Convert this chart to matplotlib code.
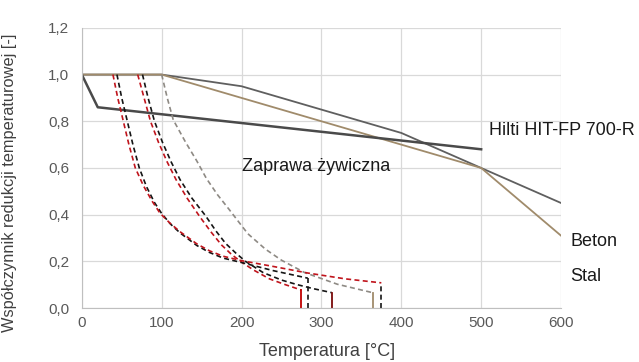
import matplotlib
matplotlib.use('Agg')
import matplotlib.pyplot as plt
from matplotlib.ticker import FuncFormatter

plt.rcParams['font.family'] = ['Liberation Sans', 'DejaVu Sans']

# solid reference curves
hilti_x = [0, 20, 500]
hilti_y = [1.0, 0.86, 0.68]
beton_x = [0, 100, 200, 300, 400, 500, 600]
beton_y = [1.0, 1.0, 0.95, 0.85, 0.75, 0.60, 0.45]
stal_x = [0, 100, 500, 600]
stal_y = [1.0, 1.0, 0.60, 0.31]

# resin mortar curves (dashed)
red_a_x = [39, 45, 52, 59, 67, 77, 88, 98, 110, 123, 144, 160, 177, 200, 240, 283, 330, 375]
red_a_y = [1.0, 0.9, 0.8, 0.7, 0.6, 0.525, 0.458, 0.406, 0.365, 0.327, 0.275, 0.245, 0.222, 0.203, 0.178, 0.15, 0.125, 0.108]
black_a_x = [44, 50, 57, 64, 72, 81, 91, 100, 111, 123, 144, 160, 177, 200, 240, 283]
black_a_y = [1.0, 0.9, 0.8, 0.7, 0.6, 0.52, 0.452, 0.405, 0.36, 0.322, 0.268, 0.238, 0.214, 0.195, 0.16, 0.128]
red_b_x = [70, 78, 86, 96, 107, 118, 132, 148, 162, 175, 188, 200, 215, 235, 255, 275]
red_b_y = [1.0, 0.9, 0.8, 0.71, 0.625, 0.55, 0.47, 0.39, 0.325, 0.27, 0.228, 0.197, 0.163, 0.125, 0.1, 0.077]
black_b_x = [76, 83, 91, 101, 112, 123, 138, 155, 168, 180, 193, 205, 227, 250, 270, 290, 313]
black_b_y = [1.0, 0.9, 0.8, 0.71, 0.625, 0.55, 0.47, 0.395, 0.33, 0.277, 0.235, 0.2, 0.152, 0.12, 0.1, 0.083, 0.066]
gray_x = [100, 107, 114.5, 130, 144, 156, 170, 185, 198, 208, 230, 250, 279, 320, 364]
gray_y = [1.0, 0.9, 0.806, 0.71, 0.63, 0.555, 0.485, 0.42, 0.362, 0.318, 0.252, 0.205, 0.152, 0.102, 0.066]

xticks = [0, 100, 200, 300, 400, 500, 600]
yticks = [0.0, 0.2, 0.4, 0.6, 0.8, 1.0, 1.2]

RED = '#C0141C'
BLACK = '#151515'
GRAY = '#8E8A84'
TAN = '#A08B6B'

fig = plt.figure(figsize=(6.39, 3.62), dpi=100)
ax = fig.add_axes([0.128, 0.149, 0.75, 0.774])

ax.plot(beton_x, beton_y, color='#5F5F5F', lw=1.3)
ax.plot(stal_x, stal_y, color=TAN, lw=1.3)
ax.plot(hilti_x, hilti_y, color='#4A4A4A', lw=1.8)

dash = (0, (3, 2))
ax.plot(gray_x, gray_y, color=GRAY, lw=1.2, ls=dash)
ax.plot(black_b_x, black_b_y, color=BLACK, lw=1.2, ls=dash)
ax.plot(red_b_x, red_b_y, color=RED, lw=1.2, ls=dash)
ax.plot(black_a_x, black_a_y, color=BLACK, lw=1.2, ls=dash)
ax.plot(red_a_x, red_a_y, color=RED, lw=1.2, ls=dash)

# drop lines at curve ends
ax.plot([red_a_x[-1]] * 2, [0, red_a_y[-1]], color=BLACK, lw=1.2, ls=dash)
ax.plot([black_a_x[-1]] * 2, [0, black_a_y[-1]], color=BLACK, lw=1.2, ls=dash)
ax.plot([red_b_x[-1]] * 2, [0, red_b_y[-1]], color='#C00000', lw=1.3)
ax.plot([black_b_x[-1]] * 2, [0, black_b_y[-1]], color='#7A0A0A', lw=1.3)
ax.plot([gray_x[-1]] * 2, [0, gray_y[-1]], color=TAN, lw=1.3)

ax.set_xlim(0, 600)
ax.set_ylim(0, 1.2)
ax.set_xticks(xticks)
ax.set_yticks(yticks)
ax.yaxis.set_major_formatter(FuncFormatter(lambda v, p: f'{v:.1f}'.replace('.', ',')))
ax.grid(True, color='#D9D9D9', lw=0.9)
ax.set_axisbelow(True)
for s in ['top', 'right']:
    ax.spines[s].set_visible(False)
for s in ['left', 'bottom']:
    ax.spines[s].set_color('#BFBFBF')
ax.tick_params(length=0, labelsize=11, colors='#595959')
ax.tick_params(axis='y', pad=9)
ax.tick_params(axis='x', pad=6)

fig.text(327 / 639, 0.028, 'Temperatura [°C]', fontsize=13, color='#404040', ha='center', va='center')
fig.text(10 / 639, 0.495, 'Współczynnik redukcji temperaturowej [-]', fontsize=11.8, color='#404040',
         ha='center', va='center', rotation=90)

tk = dict(fontsize=13, color='#1A1A1A', va='center', ha='left', clip_on=False)
ax.text(510, 0.76, 'Hilti HIT-FP 700-R', **tk)
ax.text(201, 0.605, 'Zaprawa żywiczna', **tk)
ax.text(612, 0.283, 'Beton', **tk)
ax.text(612, 0.137, 'Stal', **tk)

fig.savefig('out.png', dpi=100)
